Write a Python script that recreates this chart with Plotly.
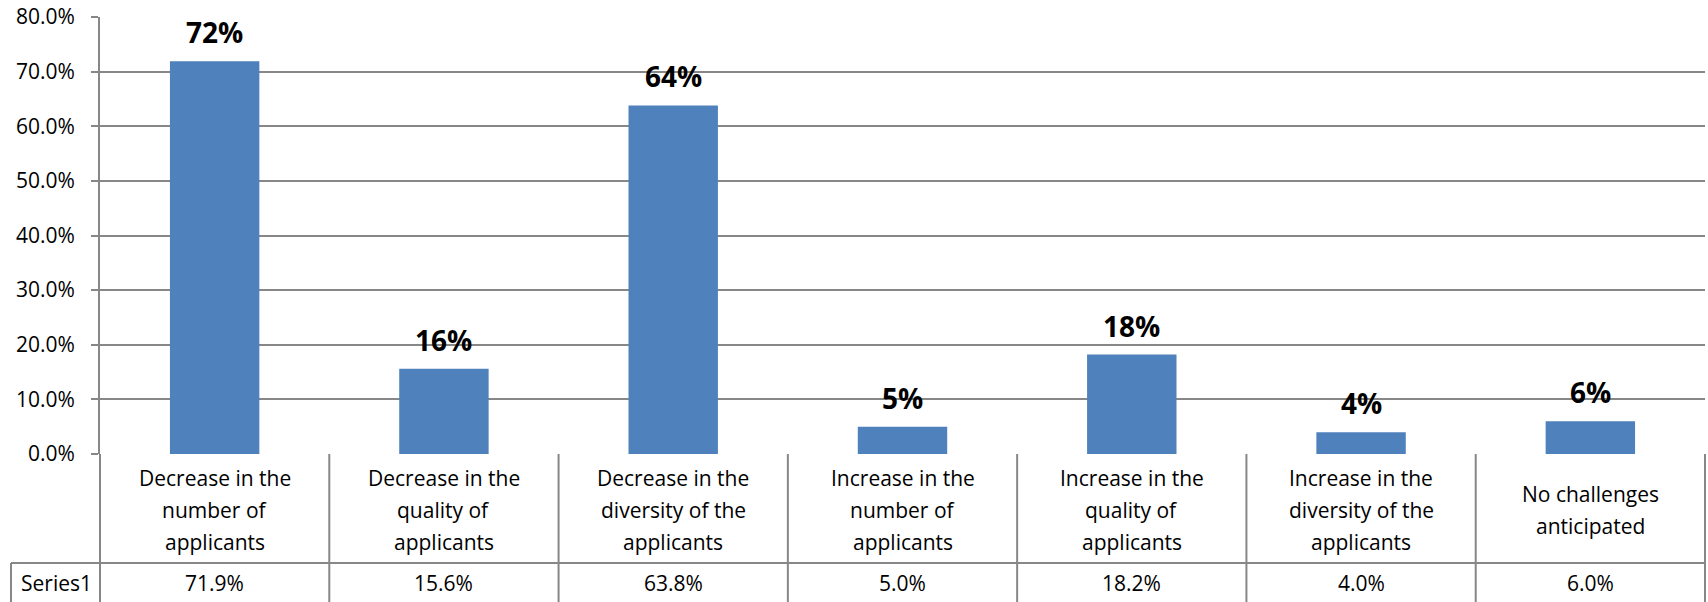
import plotly.graph_objects as go

categories = [
    "Decrease in the<br>number of<br>applicants",
    "Decrease in the<br>quality of<br>applicants",
    "Decrease in the<br>diversity of the<br>applicants",
    "Increase in the<br>number of<br>applicants",
    "Increase in the<br>quality of<br>applicants",
    "Increase in the<br>diversity of the<br>applicants",
    "No challenges<br>anticipated",
]
series_name = "Series1"
values = [71.9, 15.6, 63.8, 5.0, 18.2, 4.0, 6.0]
tick_vals = [0, 10, 20, 30, 40, 50, 60, 70, 80]
tick_text = ["0.0%", "10.0%", "20.0%", "30.0%", "40.0%", "50.0%", "60.0%", "70.0%", "80.0%"]

BAR = "#4F81BD"
GRID = "#878787"
FONT = "Open Sans"
n = len(categories)
xs = list(range(n))

fig = go.Figure(go.Bar(x=xs, y=values, marker=dict(color=BAR, line=dict(width=0)),
                       hoverinfo="skip"))

annotations = []
# data labels above bars
for i, v in zip(xs, values):
    annotations.append(dict(x=i, y=v, xref="x", yref="y", text=f"<b>{round(v):d}%</b>",
                            showarrow=False, yanchor="bottom", yshift=8,
                            font=dict(family=FONT, size=28, color="black")))

# category label row (~32px line spacing), centred 56px below the axis
for i, c in zip(xs, categories):
    lines = c.split("<br>")
    k = len(lines)
    for j, ln in enumerate(lines):
        off = -56 - (j - (k - 1) / 2) * 32
        annotations.append(dict(x=i, y=0, xref="x", yref="paper", text=ln, showarrow=False,
                                yanchor="middle", yshift=off,
                                font=dict(family=FONT, size=21, color="black")))

# series value row
for i, v in zip(xs, values):
    annotations.append(dict(x=i, y=0, xref="x", yref="paper", text=f"{v:.1f}%", showarrow=False,
                            yanchor="middle", yshift=-129,
                            font=dict(family=FONT, size=21, color="black")))
annotations.append(dict(x=0, y=0, xref="paper", yref="paper", text=series_name, showarrow=False,
                        xanchor="center", xshift=-44, yanchor="middle", yshift=-129,
                        font=dict(family=FONT, size=21, color="black")))

shapes = []
lw = dict(color=GRID, width=2)
# vertical table lines at category boundaries
for i in range(n + 1):
    bx = i / n
    shapes.append(dict(type="line", xref="paper", yref="paper", ysizemode="pixel", yanchor=0,
                       x0=bx, x1=bx, y0=0, y1=-160, line=lw))
# horizontal line between category row and series row
shapes.append(dict(type="line", xref="paper", yref="paper", ysizemode="pixel", yanchor=0,
                   x0=0, x1=1, y0=-109, y1=-109, line=lw))
shapes.append(dict(type="line", xref="paper", yref="paper", ysizemode="pixel", yanchor=0,
                   xsizemode="pixel", xanchor=0, x0=-89, x1=0, y0=-109, y1=-109, line=lw))
# series-name cell left border
shapes.append(dict(type="line", xref="paper", yref="paper", ysizemode="pixel", yanchor=0,
                   xsizemode="pixel", xanchor=0, x0=-89, x1=-89, y0=-109, y1=-160, line=lw))

fig.update_layout(
    width=1708, height=602,
    margin=dict(l=100, r=3, t=17, b=148),
    paper_bgcolor="white", plot_bgcolor="white",
    bargap=0.61, showlegend=False,
    annotations=annotations, shapes=shapes,
    font=dict(family=FONT, color="black"),
)
fig.update_xaxes(range=[-0.5, n - 0.5], showticklabels=False, showgrid=False, ticks="",
                 zeroline=False, showline=False, fixedrange=True)
fig.update_yaxes(range=[0, 80], tickvals=tick_vals, ticktext=tick_text,
                 showgrid=True, gridcolor=GRID, gridwidth=2,
                 showline=True, linecolor=GRID, linewidth=2,
                 ticks="outside", ticklen=7, tickcolor=GRID, tickwidth=2,
                 ticklabelstandoff=12,
                 tickfont=dict(family=FONT, size=21, color="black"),
                 zeroline=False, fixedrange=True)

fig.write_html("out.html", config={"displayModeBar": False},
               post_script="document.body.style.margin='0';document.body.style.padding='0';")
